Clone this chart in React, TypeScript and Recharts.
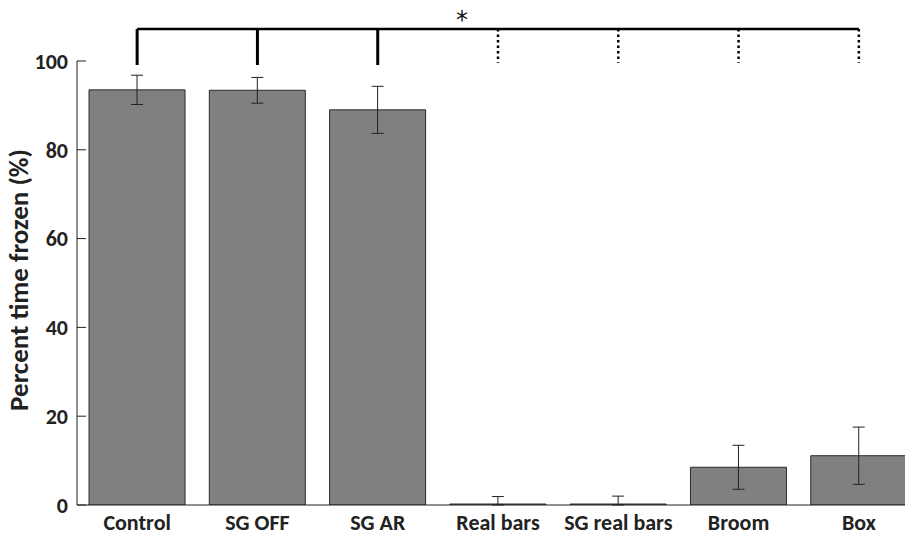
import React from 'react';
import { BarChart, Bar, XAxis, YAxis, ErrorBar, ReferenceLine } from 'recharts';

const categories = ['Control', 'SG OFF', 'SG AR', 'Real bars', 'SG real bars', 'Broom', 'Box'];
const means = [93.5, 93.4, 89.0, 0, 0, 8.5, 11.1];
const errUp = [3.3, 2.9, 5.3, 1.9, 2.0, 4.95, 6.45];
const errDown = [3.3, 2.9, 5.3, 0, 0, 4.95, 6.45];
const yTicks = [0, 20, 40, 60, 80, 100];

// significance bracket: solid drops for the first three groups, dotted for the rest
const solidDrops = [true, true, true, false, false, false, false];
const bracketY = 107.2;
const solidEnd = 99.1;
const dottedEnd = 99.6;

const data = categories.map((name, i) => ({ name, mean: means[i], err: [errDown[i], errUp[i]] }));

const FONT = "Carlito, 'Open Sans', sans-serif";
const INK = '#222';

const YLabel = ({ viewBox }: any) => {
  const cx = viewBox.x + 28;
  const cy = 280;
  return (
    <text
      x={cx}
      y={cy}
      transform={`rotate(-90, ${cx}, ${cy})`}
      textAnchor="middle"
      fontFamily={FONT}
      fontWeight="bold"
      fontSize={27}
      fill={INK}
    >
      Percent time frozen (%)
    </text>
  );
};

const Star = ({ viewBox }: any) => (
  <text
    x={viewBox.x + viewBox.width / 2 - 36}
    y={viewBox.y - 1}
    textAnchor="middle"
    fontFamily="DejaVu Sans"
    fontSize={24}
    fill="#111"
  >
    *
  </text>
);

export default function App() {
  return (
    <div style={{ position: 'absolute', left: 0, top: 0, width: 905, height: 536, overflow: 'hidden', background: '#fff' }}>
      <BarChart
        width={930}
        height={536}
        data={data}
        margin={{ top: 61, right: 11, left: 0, bottom: 1 }}
        barCategoryGap="10%"
      >
        <XAxis
          dataKey="name"
          tickLine={false}
          axisLine={{ stroke: INK, strokeWidth: 1 }}
          height={30}
          tick={{ fontFamily: FONT, fontWeight: 'bold', fontSize: 22, fill: INK }}
          tickMargin={3}
          interval={0}
        />
        <YAxis
          width={77}
          domain={[0, 100]}
          ticks={yTicks}
          allowDataOverflow
          axisLine={{ stroke: INK, strokeWidth: 1 }}
          tickLine={{ stroke: INK, strokeWidth: 1 }}
          tickSize={-9}
          tickMargin={18}
          tick={{ fontFamily: FONT, fontWeight: 'bold', fontSize: 22, fill: INK }}
          label={<YLabel />}
        />
        <Bar
          dataKey="mean"
          fill="#808080"
          stroke="#2b2b2b"
          strokeWidth={1}
          minPointSize={1}
          isAnimationActive={false}
        >
          <ErrorBar dataKey="err" width={6} stroke={INK} strokeWidth={1} direction="y" isAnimationActive={false} />
        </Bar>
        <ReferenceLine
          segment={[{ x: categories[0], y: bracketY }, { x: categories[categories.length - 1], y: bracketY }]}
          stroke="#000"
          strokeWidth={2.5}
          ifOverflow="visible"
          label={<Star />}
        />
        {categories.map((c, i) => (
          <ReferenceLine
            key={c}
            segment={[{ x: c, y: bracketY }, { x: c, y: solidDrops[i] ? solidEnd : dottedEnd }]}
            stroke="#000"
            strokeWidth={solidDrops[i] ? 3 : 2.5}
            strokeDasharray={solidDrops[i] ? undefined : '2.5 3'}
            ifOverflow="visible"
          />
        ))}
      </BarChart>
    </div>
  );
}
